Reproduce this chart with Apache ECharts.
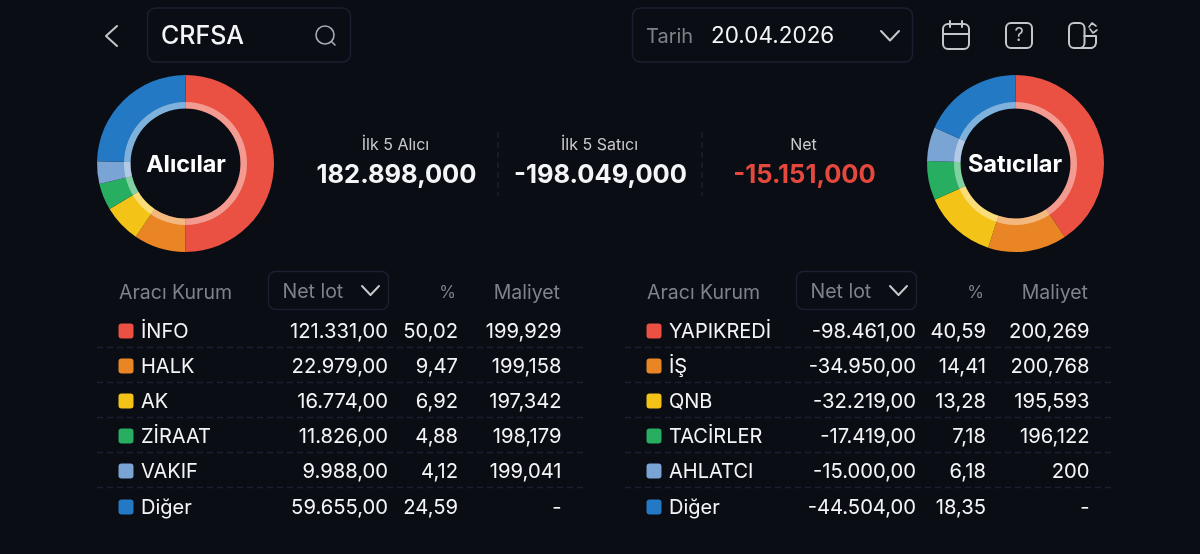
<!DOCTYPE html>
<html>
<head>
<meta charset="utf-8">
<style>
  html, body { margin: 0; padding: 0; background: #0a0d14; }
  #chart { width: 1200px; height: 554px; }
</style>
<script src="https://cdn.jsdelivr.net/npm/echarts@6/dist/echarts.min.js"></script>
</head>
<body>
<div id="chart"></div>
<script>
// renkler
const colors = ['#ea5142', '#ea8525', '#f3c417', '#27ae60', '#7aa4d4', '#2479c4'];

// alıcılar
const buyerNames = ['İNFO', 'HALK', 'AK', 'ZİRAAT', 'VAKIF', 'Diğer'];
const buyerLots = [121331, 22979, 16774, 11826, 9988, 59655];
const buyerLotLabels = ['121.331,00', '22.979,00', '16.774,00', '11.826,00', '9.988,00', '59.655,00'];
const buyerPct = ['50,02', '9,47', '6,92', '4,88', '4,12', '24,59'];
const buyerCost = ['199,929', '199,158', '197,342', '198,179', '199,041', '-'];

// satıcılar
const sellerNames = ['YAPIKREDİ', 'İŞ', 'QNB', 'TACİRLER', 'AHLATCI', 'Diğer'];
const sellerLots = [98461, 34950, 32219, 17419, 15000, 44504];
const sellerLotLabels = ['-98.461,00', '-34.950,00', '-32.219,00', '-17.419,00', '-15.000,00', '-44.504,00'];
const sellerPct = ['40,59', '14,41', '13,28', '7,18', '6,18', '18,35'];
const sellerCost = ['200,269', '200,768', '195,593', '196,122', '200', '-'];

// özet
const summaryLabels = ['İlk 5 Alıcı', 'İlk 5 Satıcı', 'Net'];
const summaryValues = ['182.898,000', '-198.049,000', '-15.151,000'];

const FONT = 'Inter, "Noto Sans", sans-serif';
const WHITE = '#f4f5f6';
const GREY = '#7f8288';
const BORDER = '#1a2030';
const ICON = '#c4c7cc';

const rowY = [332, 367, 402, 437, 472, 508];

const chart = echarts.init(document.getElementById('chart'));

function text(x, y, str, size, color, align, weight) {
  return {
    type: 'text', x: x, y: y, silent: true,
    style: {
      text: str, fontSize: size, fill: color, fontFamily: FONT,
      fontWeight: weight || 400, align: align || 'left', verticalAlign: 'middle'
    }
  };
}

function box(x, y, w, h, r) {
  return {
    type: 'rect', silent: true,
    shape: { x: x, y: y, width: w, height: h, r: r },
    style: { fill: 'transparent', stroke: BORDER, lineWidth: 1.5 }
  };
}

function stroke(points, color, width) {
  return {
    type: 'polyline', silent: true,
    shape: { points: points },
    style: { fill: 'none', stroke: color, lineWidth: width || 2, lineCap: 'round', lineJoin: 'round' }
  };
}

function iconRect(x, y, w, h, r) {
  return {
    type: 'rect', silent: true,
    shape: { x: x, y: y, width: w, height: h, r: r },
    style: { fill: 'none', stroke: ICON, lineWidth: 2 }
  };
}

function dashed(x1, y1, x2, y2) {
  return {
    type: 'line', silent: true,
    shape: { x1: x1, y1: y1, x2: x2, y2: y2 },
    style: { stroke: BORDER, lineWidth: 1.5, lineDash: [6, 4] }
  };
}

// tablo
function tableParts(names, lotLabels, pct, cost, dx) {
  const parts = [
    text(119 + dx, 293, 'Aracı Kurum', 19.5, GREY),
    box(268.5 + dx, 271.5, 120, 38, 7),
    text(282.5 + dx, 292, 'Net lot', 19.5, GREY),
    stroke([[362 + dx, 286], [370.5 + dx, 295], [379 + dx, 286]], ICON, 2),
    text(456 + dx, 293, '%', 17, GREY, 'right'),
    text(560 + dx, 293, 'Maliyet', 19.5, GREY, 'right')
  ];
  names.forEach((name, i) => {
    const y = rowY[i];
    parts.push({
      type: 'rect', silent: true,
      shape: { x: 118.5 + dx, y: y - 8.5, width: 15, height: 15, r: 3 },
      style: { fill: colors[i] }
    });
    parts.push(text(141 + dx, y, name, 20, WHITE));
    parts.push(text(388 + dx, y, lotLabels[i], 20.2, WHITE, 'right'));
    parts.push(text(458 + dx, y, pct[i], 20.2, WHITE, 'right'));
    parts.push(text(561.5 + dx, y, cost[i], 20.2, WHITE, 'right'));
    if (i < names.length - 1) {
      parts.push(dashed(97 + dx, y + 15.5, 583 + dx, y + 15.5));
    }
  });
  return parts;
}

// halka grafik
function donut(names, values, cx) {
  const data = names.map((name, i) => ({
    name: name, value: values[i], itemStyle: { color: colors[i] }
  }));
  const base = {
    type: 'pie', center: [cx, 163.5], startAngle: 90, silent: true, animation: false,
    label: { show: false }, labelLine: { show: false }
  };
  return [
    Object.assign({}, base, { radius: [55, 88.5], data: data }),
    Object.assign({}, base, {
      radius: [55, 61.5],
      data: [{ value: 1, itemStyle: { color: 'rgba(255,255,255,0.42)' } }]
    })
  ];
}

const topBar = [
  stroke([[117, 26], [106, 36], [117, 46]], ICON, 2),
  box(147.5, 8, 203, 54, 8),
  text(161, 36, 'CRFSA', 25, WHITE, 'left', 500),
  { type: 'circle', silent: true, shape: { cx: 325, cy: 35, r: 9 },
    style: { fill: 'none', stroke: '#a9adb3', lineWidth: 1.6 } },
  stroke([[331.5, 41.5], [335, 45]], '#a9adb3', 1.6),
  box(632.5, 8, 280, 54, 8),
  text(646, 36.5, 'Tarih', 20, GREY),
  text(711, 36.5, '20.04.2026', 22.5, WHITE),
  stroke([[881, 31], [890, 40.5], [899, 31]], ICON, 2),
  // takvim
  iconRect(943, 24, 26, 25, 5),
  stroke([[943, 34], [969, 34]], ICON, 2),
  stroke([[950, 21], [950, 27]], ICON, 2),
  stroke([[962, 21], [962, 27]], ICON, 2),
  // yardım
  iconRect(1006, 23, 26, 25, 5),
  text(1019, 36, '?', 18, ICON, 'center'),
  // görünüm
  iconRect(1069, 23, 15.5, 25, 5),
  stroke([[1084.5, 36], [1096, 36], [1096, 43], [1095, 46], [1092, 48], [1080, 48]], ICON, 2),
  stroke([[1089, 27], [1092, 23], [1096, 26]], ICON, 1.6),
  stroke([[1090, 29], [1093, 33], [1097, 30]], ICON, 1.6)
];

const summary = [];
[396, 600, 804].forEach((x, i) => {
  summary.push(text(x - 0.5, 145, summaryLabels[i], 16, '#c9cbcf', 'center'));
  summary.push(text(x + 0.5, 175, summaryValues[i], 25.5, i === 2 ? '#e5483d' : WHITE, 'center', 700));
});
summary.push(dashed(498, 132, 498, 196));
summary.push(dashed(702, 132, 702, 196));

chart.setOption({
  backgroundColor: '#0a0d14',
  animation: false,
  series: donut(buyerNames, buyerLots, 185.5).concat(donut(sellerNames, sellerLots, 1015.5)),
  graphic: { elements: [].concat(
    topBar,
    summary,
    [text(186, 164.5, 'Alıcılar', 23.4, '#ffffff', 'center', 700),
     text(1015, 164.5, 'Satıcılar', 23.6, '#ffffff', 'center', 700)],
    tableParts(buyerNames, buyerLotLabels, buyerPct, buyerCost, 0),
    tableParts(sellerNames, sellerLotLabels, sellerPct, sellerCost, 528)
  ) }
});
</script>
</body>
</html>
